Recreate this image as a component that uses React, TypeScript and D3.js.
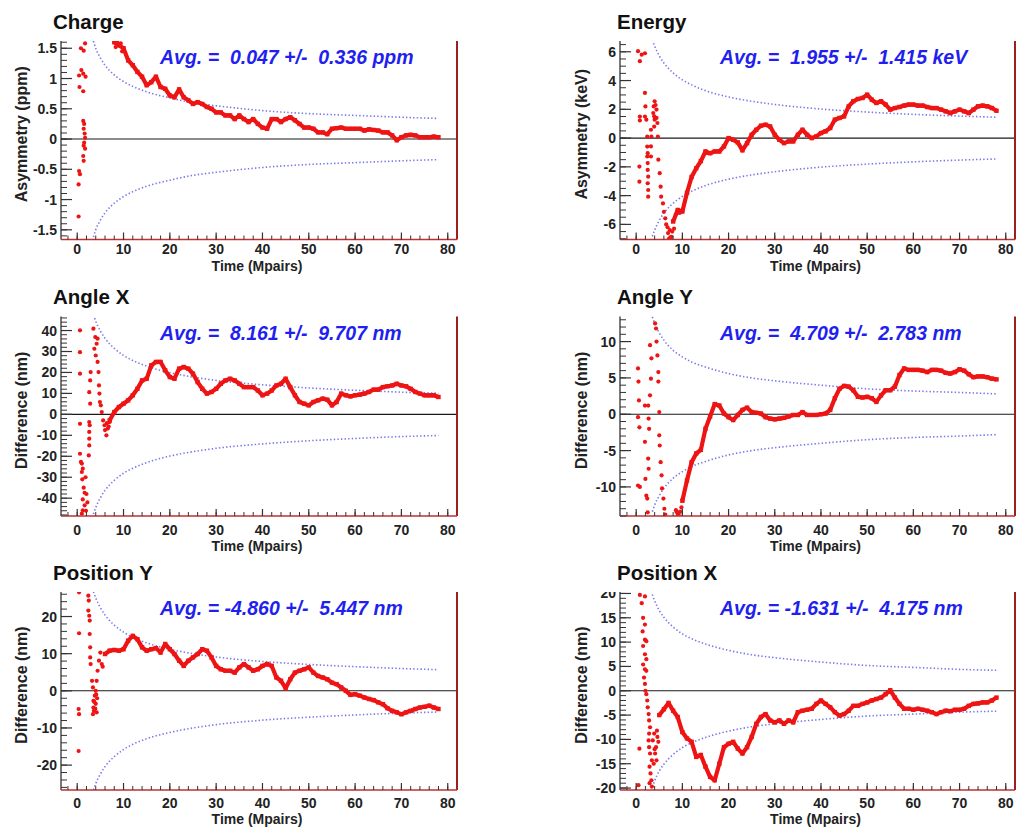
import React from 'react';
import * as d3 from 'd3';

type Pt = [number, number];

const X_MAJOR = [0, 10, 20, 30, 40, 50, 60, 70, 80];
const X_DOMAIN: [number, number] = [-3.5, 82];
const ENV_X = [3.5, 4, 5, 6, 8, 10, 12, 15, 20, 25, 30, 40, 50, 60, 70, 78];

// ---------- Charge ----------
const chargeScatter: Pt[] = [
  [0.8, 1.5], [1.4, 1.46], [1.7, 1.58], [0.4, 1.05], [0.9, 1.14], [1.3, 1.08], [1.8, 1.03],
  [0.5, 0.86], [1.3, 0.79], [1.3, 0.3], [1.5, 0.25], [1.4, 0.17], [1.6, 0.09], [1.7, 0.02],
  [1.5, -0.06], [1.4, -0.11], [1.7, -0.16], [1.3, -0.28], [1.4, -0.36], [0.4, -0.53],
  [0.6, -0.58], [0.3, -0.75], [0.3, -1.28], [8.3, 1.52], [8.6, 1.6], [9.4, 1.58], [9.7, 1.45],
];
const chargeTrendStart = 8;
const chargeTrend = [
  1.6, 1.55, 1.5, 1.3, 1.22, 1.11, 1.03, 0.89, 0.94, 1.03, 0.86, 0.83, 0.72, 0.69, 0.82, 0.69,
  0.64, 0.58, 0.61, 0.58, 0.53, 0.5, 0.44, 0.44, 0.39, 0.39, 0.33, 0.39, 0.33, 0.28, 0.33, 0.25,
  0.19, 0.17, 0.33, 0.33, 0.28, 0.33, 0.36, 0.31, 0.25, 0.19, 0.19, 0.17, 0.11, 0.11, 0.08, 0.17,
  0.18, 0.19, 0.17, 0.17, 0.17, 0.17, 0.14, 0.16, 0.15, 0.14, 0.11, 0.11, 0.06, -0.02, 0.03, 0.06,
  0.07, 0.06, 0.03, 0.03, 0.03, 0.04, 0.03,
];
const chargeEnv = [1.62, 1.5, 1.34, 1.22, 1.06, 0.95, 0.87, 0.78, 0.68, 0.6, 0.55, 0.47, 0.42, 0.39, 0.36, 0.34];
const chargeYTicks = [-1.5, -1, -0.5, 0, 0.5, 1, 1.5];

// ---------- Energy ----------
const energyScatter: Pt[] = [
  [0.4, 6.04], [1.2, 5.8], [1.9, 5.9], [0.8, 5.35], [0.8, 1.5], [0.8, 1.23], [0.7, -1.98],
  [0.7, -3.03], [1.9, 3.14], [2.0, 2.2], [1.9, 1.5], [2.2, 1.28], [2.4, 0.11], [2.4, -0.59],
  [2.5, -1.05], [2.4, -1.28], [2.5, -1.74], [2.5, -2.21], [2.6, -2.68], [2.5, -3.14],
  [2.6, -3.61], [2.6, -4.07], [3.2, 0.58], [3.3, 0.11], [3.7, 1.74], [4.0, 2.56], [4.0, 1.28],
  [4.4, 1.98], [4.6, 1.05], [3.9, 1.51], [4.7, 0.11], [3.2, -0.58], [3.2, -1.28], [3.8, 2.2],
  [4.2, 2.3], [3.9, 0.8], [4.4, 1.4], [4.8, -1.5], [5.1, -2.44], [5.3, -3.38], [5.4, -4.07],
  [5.8, -4.54], [6.0, -5.12], [6.3, -5.58], [6.8, -6.2], [7.3, -6.4], [7.6, -6.87],
  [6.5, -6.0], [6.9, -6.6], [7.1, -7.0], [7.4, -6.9], [7.8, -6.5], [8.2, -6.3], [8.6, -5.3],
  [9.0, -5.0], [9.4, -5.2], [9.8, -5.1],
];
const energyTrendStart = 8;
const energyTrend = [
  -5.8, -5.0, -5.1, -3.8, -2.7, -2.1, -1.6, -0.93, -1.05, -0.93, -0.93, -0.58, 0, -0.12, -0.3,
  -0.85, -0.35, 0.23, 0.58, 0.86, 0.93, 0.81, 0.23, -0.12, -0.35, -0.23, -0.23, 0.23, 0.58, 0.23,
  0, 0.12, 0.35, 0.47, 0.7, 1.28, 1.4, 1.51, 2.2, 2.56, 2.72, 2.79, 3.02, 2.67, 2.44, 2.56, 2.33,
  1.98, 2.09, 2.16, 2.26, 2.33, 2.33, 2.26, 2.26, 2.16, 2.09, 2.09, 1.98, 1.86, 1.74, 1.86, 1.98,
  1.86, 1.74, 1.98, 2.21, 2.26, 2.21, 2.09, 1.9,
];
const energyEnv = [6.84, 6.4, 5.72, 5.22, 4.53, 4.05, 3.7, 3.3, 2.86, 2.56, 2.34, 2.02, 1.81, 1.65, 1.53, 1.45];
const energyYTicks = [-6, -4, -2, 0, 2, 4, 6];

// ---------- Angle X ----------
const angleXScatter: Pt[] = [
  [0.6, 40.1], [0.6, 29.7], [0.6, 19.4], [0.6, -4.5], [0.6, -18.8], [0.8, -22.7], [1.0, -23.5],
  [1.2, -25.9], [1.0, -27.5], [1.1, -31], [1.4, -35], [1.6, -37.4], [1.2, -40.6], [1.6, -43.4],
  [1.2, -45.8], [1.0, -47.4], [1.8, -30], [2.0, -38], [2.2, -42], [1.9, -46], [2.5, -19.6],
  [2.6, -11.6], [2.6, -8.4], [2.7, -5.2], [2.6, -3.7], [2.6, -14.8], [2.8, 5.1], [2.8, 16.2],
  [2.9, 20.2], [2.6, 10.6], [3.5, 40.9], [3.9, 36.9], [4.2, 33.7], [3.7, 31.3], [4.4, 36.1],
  [4.0, 28.1], [4.4, 25], [4.6, 20.2], [4.7, 13.8], [4.8, 9.9], [4.9, 5.9], [5.1, 4.3],
  [5.3, 1.1], [5.6, -2.9], [5.9, -5.2], [6.3, -10], [6.6, -6.8], [7.0, -3.7], [6.0, -7.5],
  [6.4, -4.2], [6.8, -5.8],
];
const angleXTrendStart = 7;
const angleXTrend = [
  -2.9, 1.1, 3.5, 5.1, 6.7, 9.1, 12.2, 16.2, 17, 23.4, 25, 25, 21, 17.8, 17, 21.8, 22.6, 21.8,
  19.4, 15.4, 12.2, 9.9, 10.7, 12.2, 14.6, 16.2, 17, 16.2, 14.6, 13, 13, 13, 11.4, 9.1, 9.9, 11.4,
  13.8, 14.6, 17, 13, 9.1, 5.9, 5.1, 4.3, 5.9, 6.7, 7.5, 7, 4.3, 5.9, 9.9, 9.1, 8.6, 9.1, 9.4, 9.9,
  10.7, 11.8, 11.8, 13, 13.4, 13.8, 14.6, 13.8, 13.4, 12.2, 10.7, 9.9, 9.1, 9.1, 9.1, 8.3,
];
const angleXEnv = [47.6, 44.5, 39.8, 36.3, 31.5, 28.1, 25.7, 23, 19.9, 17.8, 16.2, 14.1, 12.6, 11.5, 10.6, 10.1];
const angleXYTicks = [-40, -30, -20, -10, 0, 10, 20, 30, 40];

// ---------- Angle Y ----------
const angleYScatter: Pt[] = [
  [0.4, 6.3], [0.5, 4.5], [0.6, 1.9], [0.4, -0.4], [0.7, -1.8], [0.4, -9.8], [0.8, -10],
  [1.9, -3.8], [2.0, -8.9], [2.2, -11.2], [2.4, -11.6], [1.9, 1.2], [2.6, 1.2], [2.7, -0.6],
  [2.8, -2], [2.6, -6.1], [2.7, -7.5], [2.5, -13.5], [3.0, 9.5], [3.2, 4.9], [3.3, 7.7],
  [3.0, 2.6], [4.1, 12.5], [4.3, 11.8], [4.4, 10], [4.6, 8.1], [4.8, 5.8], [4.8, 4.5], [5.0, 0.3],
  [5.0, -2.9], [5.1, -4.3], [5.3, -6.6], [5.5, -8.4], [5.6, -10.2], [5.9, -11.6], [6.1, -13],
  [6.3, -13.8], [8.6, -13.2], [8.8, -13.5], [9.0, -13.9], [9.2, -13.8], [9.5, -13.4], [9.8, -12.8],
];
const angleYTrendStart = 10;
const angleYTrend = [
  -11.9, -9.1, -6.6, -5.4, -4.9, -2.0, -0.3, 1.4, 1.2, 0.1, -0.4, -0.8, -0.1, 0.6, 0.9, 0.3, 0.2,
  0.1, -0.4, -0.6, -0.7, -0.6, -0.5, -0.3, -0.1, -0.1, 0.3, -0.1, -0.1, -0.1, 0, 0.1, 0.6, 2.2,
  3.5, 3.9, 3.8, 3.3, 2.4, 2.3, 2.4, 2.2, 1.7, 2.6, 3.3, 3.3, 3.8, 5.4, 6.3, 6.1, 6.1, 6.1, 6.0,
  5.8, 6.1, 6.1, 6.0, 5.7, 5.6, 5.8, 6.2, 6.0, 5.5, 5.1, 5.2, 5.2, 5.1, 4.9, 4.8,
];
const angleYEnv = [13.4, 12.5, 11.2, 10.2, 8.8, 7.9, 7.2, 6.5, 5.6, 5.0, 4.6, 4.0, 3.5, 3.2, 3.0, 2.8];
const angleYYTicks = [-10, -5, 0, 5, 10];

// ---------- Position Y ----------
const posYScatter: Pt[] = [
  [0.4, 26.5], [0.4, 15.5], [0.3, -4.9], [0.4, -6.3], [0.3, -16.2], [2.4, 25.6], [2.5, 24.3],
  [2.4, 21.6], [2.6, 20.2], [2.7, 18.9], [2.7, 15.3], [2.8, 11.7], [2.8, 9], [2.9, 7.2],
  [3.2, 2.7], [3.4, 0.9], [3.5, -2.7], [3.6, -5.4], [3.8, -1.3], [3.4, -6.3], [3.5, -4.5],
  [4.0, 0], [4.0, -3.5], [4.2, -5.8], [4.3, -2], [4.2, 2.7], [4.4, 5.4], [4.7, 8.1], [5.0, 10.3],
  [5.3, 7.2], [5.5, 6.5], [3.7, -3.0], [3.9, -4.8], [4.1, -1.0],
];
const posYTrendStart = 6;
const posYTrend = [
  9.9, 10.8, 11, 10.8, 11.2, 13.5, 14.8, 13.9, 11.7, 10.8, 11.2, 11.5, 10.3, 12.6, 11.2, 9.9, 8.1,
  6.7, 8.1, 9, 9.9, 11.2, 10.8, 9, 6.7, 5.8, 5.4, 5.4, 4.9, 6.3, 7.2, 6.3, 5.4, 5.8, 6.7, 7.2, 6.7,
  3.6, 2.7, 0.7, 3.1, 4.9, 5.4, 5.8, 6.3, 4.9, 4.0, 3.6, 3.1, 2.2, 1.8, 0.9, 0, -1.1, -0.9, -1.3,
  -1.8, -2.2, -2.5, -3.1, -3.6, -4.7, -5.4, -5.8, -6.3, -5.8, -5.4, -4.9, -4.5, -4.3, -4.0, -4.5,
  -4.9,
];
const posYEnv = [26.7, 25, 22.4, 20.4, 17.7, 15.8, 14.4, 12.9, 11.2, 10, 9.1, 7.9, 7.1, 6.5, 6.0, 5.7];
const posYYTicks = [-20, -10, 0, 10, 20];

// ---------- Position X ----------
const posXScatter: Pt[] = [
  [0.8, 19.7], [1.9, 19.4], [1.2, 18], [1.5, 15], [1.9, 13.6], [1.4, 12.2], [1.9, 10.5],
  [2.2, 10.2], [1.5, 9.2], [1.9, 7.5], [2.2, 6.5], [1.5, 5.4], [1.9, 4.4], [2.2, 4.1], [1.7, 2.7],
  [1.9, 1.4], [2.0, 0], [2.2, -0.7], [2.4, -2], [2.5, -3.4], [2.7, -4.8], [2.8, -6.1], [3.0, -7.5],
  [2.8, -8.8], [2.7, -10.2], [2.8, -11.6], [0.7, -11.9], [0.5, -19.4], [3.0, -12.9], [2.9, -15.6],
  [3.1, -17], [3.3, -18.4], [2.9, -19], [3.4, -19.7], [3.6, -10.2], [3.4, -14.3], [3.9, -8.8],
  [4.3, -11.6], [4.1, -12.9], [4.6, -9.5], [4.4, -14.3], [4.8, -10.5], [3.8, -15.0], [4.0, -12.0],
  [4.5, -8.2],
];
const posXTrendStart = 5;
const posXTrend = [
  -5, -3.8, -2.5, -4.1, -5.4, -8.5, -9.8, -10.5, -13.6, -13.2, -15.6, -17.7, -18.4, -15, -11.6,
  -10.9, -10.5, -11.9, -12.9, -11.6, -9.5, -6.8, -5.4, -4.8, -6.1, -6.5, -6.1, -6.8, -6.1, -6.5,
  -4.4, -4.1, -3.9, -3.7, -2.7, -2, -2.7, -3.4, -4.4, -5.1, -4.8, -4.1, -3.1, -3.1, -2.7, -2.4, -2,
  -1.7, -1.4, -0.7, 0.1, -1.4, -2.7, -3.7, -3.7, -3.9, -3.7, -3.9, -4.1, -4.4, -4.8, -4.4, -4.1,
  -4.2, -3.9, -3.9, -3.7, -3.1, -2.7, -2.6, -2.4, -2.4, -2, -1.4,
];
const posXEnv = [19.8, 18.5, 16.5, 15.1, 13.1, 11.7, 10.7, 9.6, 8.3, 7.4, 6.8, 5.9, 5.2, 4.8, 4.4, 4.2];
const posXYTicks = [-20, -15, -10, -5, 0, 5, 10, 15, 20];

// ---------- layout ----------
const COLS = [
  { left: 61, right: 457, titleX: 53, avgX: 160, yTitleX: 21 },
  { left: 620, right: 1015, titleX: 617, avgX: 720, yTitleX: 581 },
];
const ROWS = [
  { top: 41, bottom: 239.5, tickOff: 14.5, timeOff: 31.5 },
  { top: 316.5, bottom: 516, tickOff: 19, timeOff: 35 },
  { top: 592, bottom: 790, tickOff: 18, timeOff: 34 },
];

interface PanelSpec {
  title: string; yLabel: string; avg: string;
  scatter: Pt[]; trendStart: number; trend: number[]; env: number[];
  yDomain: [number, number]; yTicks: number[]; yMinor: number;
  col: number; row: number;
}

const PANELS: PanelSpec[] = [
  { title: 'Charge', yLabel: 'Asymmetry (ppm)', avg: 'Avg. =  0.047 +/-  0.336 ppm',
    scatter: chargeScatter, trendStart: chargeTrendStart, trend: chargeTrend, env: chargeEnv,
    yDomain: [-1.66, 1.62], yTicks: chargeYTicks, yMinor: 0.1, col: 0, row: 0 },
  { title: 'Energy', yLabel: 'Asymmetry (keV)', avg: 'Avg. =  1.955 +/-  1.415 keV',
    scatter: energyScatter, trendStart: energyTrendStart, trend: energyTrend, env: energyEnv,
    yDomain: [-7.05, 6.75], yTicks: energyYTicks, yMinor: 0.5, col: 1, row: 0 },
  { title: 'Angle X', yLabel: 'Difference (nm)', avg: 'Avg. =  8.161 +/-  9.707 nm',
    scatter: angleXScatter, trendStart: angleXTrendStart, trend: angleXTrend, env: angleXEnv,
    yDomain: [-48.5, 46.7], yTicks: angleXYTicks, yMinor: 2, col: 0, row: 1 },
  { title: 'Angle Y', yLabel: 'Difference (nm)', avg: 'Avg. =  4.709 +/-  2.783 nm',
    scatter: angleYScatter, trendStart: angleYTrendStart, trend: angleYTrend, env: angleYEnv,
    yDomain: [-14.0, 13.45], yTicks: angleYYTicks, yMinor: 1, col: 1, row: 1 },
  { title: 'Position Y', yLabel: 'Difference (nm)', avg: 'Avg. = -4.860 +/-  5.447 nm',
    scatter: posYScatter, trendStart: posYTrendStart, trend: posYTrend, env: posYEnv,
    yDomain: [-26.7, 26.6], yTicks: posYYTicks, yMinor: 2, col: 0, row: 2 },
  { title: 'Position X', yLabel: 'Difference (nm)', avg: 'Avg. = -1.631 +/-  4.175 nm',
    scatter: posXScatter, trendStart: posXTrendStart, trend: posXTrend, env: posXEnv,
    yDomain: [-20.4, 20.3], yTicks: posXYTicks, yMinor: 1, col: 1, row: 2 },
];

const FONT = '"Liberation Sans", Arial, Helvetica, sans-serif';
const RED = '#ee1414';
const BLUE_ENV = '#7878ea';
const AVG_BLUE = '#1f1ff0';

function Panel({ p, idx }: { p: PanelSpec; idx: number }) {
  const c = COLS[p.col];
  const r = ROWS[p.row];
  const x = d3.scaleLinear().domain(X_DOMAIN).range([c.left, c.right]);
  const y = d3.scaleLinear().domain(p.yDomain).range([r.bottom, r.top]);
  const clipId = `plotclip${idx}`;
  const labClip = `labclip${idx}`;

  const trendPts: Pt[] = p.trend.map((v, i) => [p.trendStart + i, v]);
  const line = d3.line<Pt>().x((d) => x(d[0])).y((d) => y(d[1]));
  const envLine = d3.line<Pt>().x((d) => x(d[0])).y((d) => y(d[1])).curve(d3.curveMonotoneX);
  const up: Pt[] = ENV_X.map((xx, i) => [xx, p.env[i]]);
  const lo: Pt[] = ENV_X.map((xx, i) => [xx, -p.env[i]]);

  const [d0, d1] = p.yDomain;
  const yMinorTicks = d3.range(Math.ceil(d0 / p.yMinor) * p.yMinor, d1, p.yMinor);
  const xMinorTicks = d3.range(-2, 82, 2);
  const sq = 4.4;

  return (
    <g>
      <defs>
        <clipPath id={clipId}>
          <rect x={c.left} y={r.top} width={c.right - c.left} height={r.bottom - r.top} />
        </clipPath>
        <clipPath id={labClip}>
          <rect x={c.left - 60} y={r.top} width={60} height={r.bottom - r.top + 20} />
        </clipPath>
      </defs>

      {/* envelope */}
      <g clipPath={`url(#${clipId})`}>
        <path d={envLine(up) || ''} fill="none" stroke={BLUE_ENV} strokeWidth={1.6} strokeDasharray="1.4 2.2" />
        <path d={envLine(lo) || ''} fill="none" stroke={BLUE_ENV} strokeWidth={1.6} strokeDasharray="1.4 2.2" />
      </g>

      {/* zero line */}
      <line x1={c.left} x2={c.right} y1={y(0)} y2={y(0)} stroke="#1a1a1a" strokeWidth={1.1} />

      {/* data */}
      <g clipPath={`url(#${clipId})`}>
        <path d={line(trendPts) || ''} fill="none" stroke={RED} strokeWidth={4.2} strokeLinejoin="round" />
        {trendPts.map((d, i) => (
          <rect key={`t${i}`} x={x(d[0]) - sq / 2} y={y(d[1]) - sq / 2} width={sq} height={sq} fill={RED} />
        ))}
        {p.scatter.map((d, i) => (
          <circle key={`s${i}`} cx={x(d[0])} cy={y(d[1])} r={2.1} fill={RED} />
        ))}
      </g>

      {/* frame */}
      <line x1={c.left} x2={c.left} y1={r.top} y2={r.bottom} stroke="#222" strokeWidth={1.2} />
      <line x1={c.right} x2={c.right} y1={r.top} y2={r.bottom} stroke="#9b2020" strokeWidth={2} />
      <line x1={c.left} x2={c.right} y1={r.bottom} y2={r.bottom} stroke="#c03030" strokeWidth={1.6} />

      {/* y ticks */}
      {yMinorTicks.map((t, i) => (
        <line key={`ym${i}`} x1={c.left} x2={c.left + 6} y1={y(t)} y2={y(t)} stroke="#333" strokeWidth={1} />
      ))}
      {p.yTicks.map((t) => (
        <line key={`yM${t}`} x1={c.left} x2={c.left + 11} y1={y(t)} y2={y(t)} stroke="#333" strokeWidth={1.2} />
      ))}
      <g clipPath={`url(#${labClip})`}>
        {p.yTicks.map((t) => (
          <text key={`yl${t}`} x={c.left - 4} y={y(t)} textAnchor="end" dominantBaseline="central"
            fontFamily={FONT} fontWeight="bold" fontSize={14} fill="#222">{String(t)}</text>
        ))}
      </g>

      {/* x ticks */}
      {xMinorTicks.map((t) => (
        <line key={`xm${t}`} x1={x(t)} x2={x(t)} y1={r.bottom} y2={r.bottom - 4} stroke="#333" strokeWidth={1} />
      ))}
      {X_MAJOR.map((t) => (
        <line key={`xM${t}`} x1={x(t)} x2={x(t)} y1={r.bottom} y2={r.bottom - 7} stroke="#333" strokeWidth={1.2} />
      ))}
      {X_MAJOR.map((t) => (
        <text key={`xl${t}`} x={x(t)} y={r.bottom + r.tickOff} textAnchor="middle"
          fontFamily={FONT} fontWeight="bold" fontSize={14} fill="#222">{String(t)}</text>
      ))}
      <text x={(c.left + c.right) / 2 - 2} y={r.bottom + r.timeOff} textAnchor="middle"
        fontFamily={FONT} fontWeight="bold" fontSize={14} fill="#222">Time (Mpairs)</text>

      {/* y title */}
      <text transform={`translate(${c.yTitleX},${(r.top + r.bottom) / 2 - 6}) rotate(-90)`}
        textAnchor="middle" dominantBaseline="central"
        fontFamily={FONT} fontWeight="bold" fontSize={16} fill="#222">{p.yLabel}</text>

      {/* panel title */}
      <text x={c.titleX} y={r.top - 12.5} fontFamily={FONT} fontWeight="bold" fontSize={20.5} fill="#111">{p.title}</text>

      {/* average */}
      <text x={c.avgX} y={r.top + 23} fontFamily={FONT} fontWeight="bold" fontStyle="italic"
        fontSize={19.5} fill={AVG_BLUE} style={{ whiteSpace: 'pre' }}>{p.avg}</text>
    </g>
  );
}

export default function App() {
  return (
    <svg width={1016} height={831} viewBox="0 0 1016 831"
      style={{ position: 'absolute', left: 0, top: 0, background: '#fff' }}>
      <rect x={0} y={0} width={1016} height={831} fill="#fff" />
      {PANELS.map((p, i) => (
        <Panel key={p.title} p={p} idx={i} />
      ))}
    </svg>
  );
}
